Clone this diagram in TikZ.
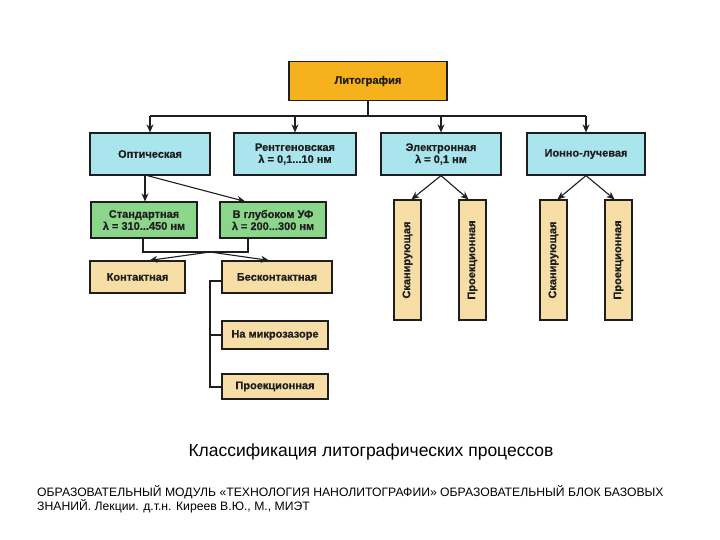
\documentclass[tikz,border=0pt]{standalone}
\usepackage{fontspec}
\setmainfont{Liberation Sans}
\newfontfamily\boxfont[FakeBold=0.6]{Liberation Sans}
\usetikzlibrary{arrows.meta}
\definecolor{orangeF}{RGB}{246,178,28}
\definecolor{cyanF}{RGB}{170,228,236}
\definecolor{greenF}{RGB}{140,214,140}
\definecolor{tanF}{RGB}{246,222,166}
\definecolor{inkC}{RGB}{30,30,30}
\begin{document}
\begin{tikzpicture}[x=1pt,y=-1pt,
  box/.style={draw=inkC, line width=1.2pt, inner sep=0pt, align=center, text=inkC,
    font=\boxfont\fontsize{11}{12}\selectfont\bfseries},
  arr/.style={draw=inkC, line width=1.1pt, -{Stealth[length=8pt,width=7pt]}},
  ln/.style={draw=inkC, line width=1.1pt}]
\fill[white] (0,0) rectangle (720,540);
\useasboundingbox (0,0) rectangle (720,540);
% top
\node[box, fill=orangeF, minimum width=158pt, minimum height=39pt] (lit) at (368,81) {Литография};
% row 2
\node[box, fill=cyanF, minimum width=120pt, minimum height=42pt] (opt) at (150,154) {Оптическая};
\node[box, fill=cyanF, minimum width=122pt, minimum height=42pt] (xr) at (295,154) {Рентгеновская\\λ = 0,1...10 нм};
\node[box, fill=cyanF, minimum width=120pt, minimum height=42pt] (el) at (441,154) {Электронная\\λ = 0,1 нм};
\node[box, fill=cyanF, minimum width=118pt, minimum height=42pt] (ion) at (586,154) {Ионно-лучевая};
% green
\node[box, fill=greenF, minimum width=106pt, minimum height=36pt] (std) at (144,220) {Стандартная\\λ = 310...450 нм};
\node[box, fill=greenF, minimum width=106pt, minimum height=36pt] (duv) at (273,220) {В глубоком УФ\\λ = 200...300 нм};
% tan
\node[box, fill=tanF, minimum width=95pt, minimum height=32pt] (cont) at (137.5,277) {Контактная};
\node[box, fill=tanF, minimum width=110pt, minimum height=32pt] (bes) at (277,277) {Бесконтактная};
\node[box, fill=tanF, minimum width=106pt, minimum height=28pt] (micro) at (275,335) {На микрозазоре};
\node[box, fill=tanF, minimum width=106pt, minimum height=25pt] (proj) at (275,386.5) {Проекционная};
% vertical
\node[box, fill=tanF, minimum width=27pt, minimum height=120pt] (sk1) at (407.5,260) {\rotatebox{90}{Сканирующая}};
\node[box, fill=tanF, minimum width=27pt, minimum height=120pt] (pr1) at (472.5,260) {\rotatebox{90}{Проекционная}};
\node[box, fill=tanF, minimum width=27pt, minimum height=120pt] (sk2) at (553.5,260) {\rotatebox{90}{Сканирующая}};
\node[box, fill=tanF, minimum width=27pt, minimum height=120pt] (pr2) at (618.5,260) {\rotatebox{90}{Проекционная}};
% connectors top
\coordinate (busL) at (150,116);
\coordinate (busR) at (586,116);
\draw[ln] (lit.south) -- (lit.south |- busL);
\draw[ln] (busL) -- (busR);
\draw[arr] (busL) -- (opt.north);
\draw[arr] (xr.north |- busL) -- (xr.north);
\draw[arr] (el.north |- busL) -- (el.north);
\draw[arr] (busR) -- (ion.north);
% optical to green
\coordinate (o1) at (145,175);
\draw[arr] (o1) -- (o1 |- std.north);
\draw[arr] (o1) -- ([xshift=-28pt]duv.north);
% bracket
\coordinate (bl) at (143,252);
\coordinate (br) at (248,252);
\coordinate (fork) at (210,252);
\draw[ln] (bl |- std.south) -- (bl) -- (br) -- (br |- duv.south);
\draw[arr] (fork) -- ([xshift=12pt]cont.north);
\draw[arr] (fork) -- ([xshift=-8pt]bes.north);
% bes spine
\coordinate (sp) at (210,387);
\draw[ln] ([yshift=-4pt]bes.west) -| (sp) -- (sp -| proj.west);
\draw[ln] (micro.west) -- (micro.west -| sp);
% electron / ion
\draw[arr] (el.south) -- ([xshift=4pt]sk1.north);
\draw[arr] (el.south) -- ([xshift=-4pt]pr1.north);
\draw[arr] (ion.south) -- ([xshift=4pt]sk2.north);
\draw[arr] (ion.south) -- ([xshift=-4pt]pr2.north);
% captions
\node[font=\fontsize{17.5}{20}\selectfont, text=black] (cap) at (371,452) {Классификация литографических процессов};
\node[font=\fontsize{12.2}{14}\selectfont, text=black, anchor=base west, inner sep=0pt] (f1) at (37,496) {ОБРАЗОВАТЕЛЬНЫЙ МОДУЛЬ «ТЕХНОЛОГИЯ НАНОЛИТОГРАФИИ» ОБРАЗОВАТЕЛЬНЫЙ БЛОК БАЗОВЫХ};
\node[font=\fontsize{12.2}{14}\selectfont, text=black, anchor=base west, inner sep=0pt] (f2) at (37,510) {ЗНАНИЙ. Лекции. д.т.н. Киреев В.Ю., М., МИЭТ};
\end{tikzpicture}
\end{document}
